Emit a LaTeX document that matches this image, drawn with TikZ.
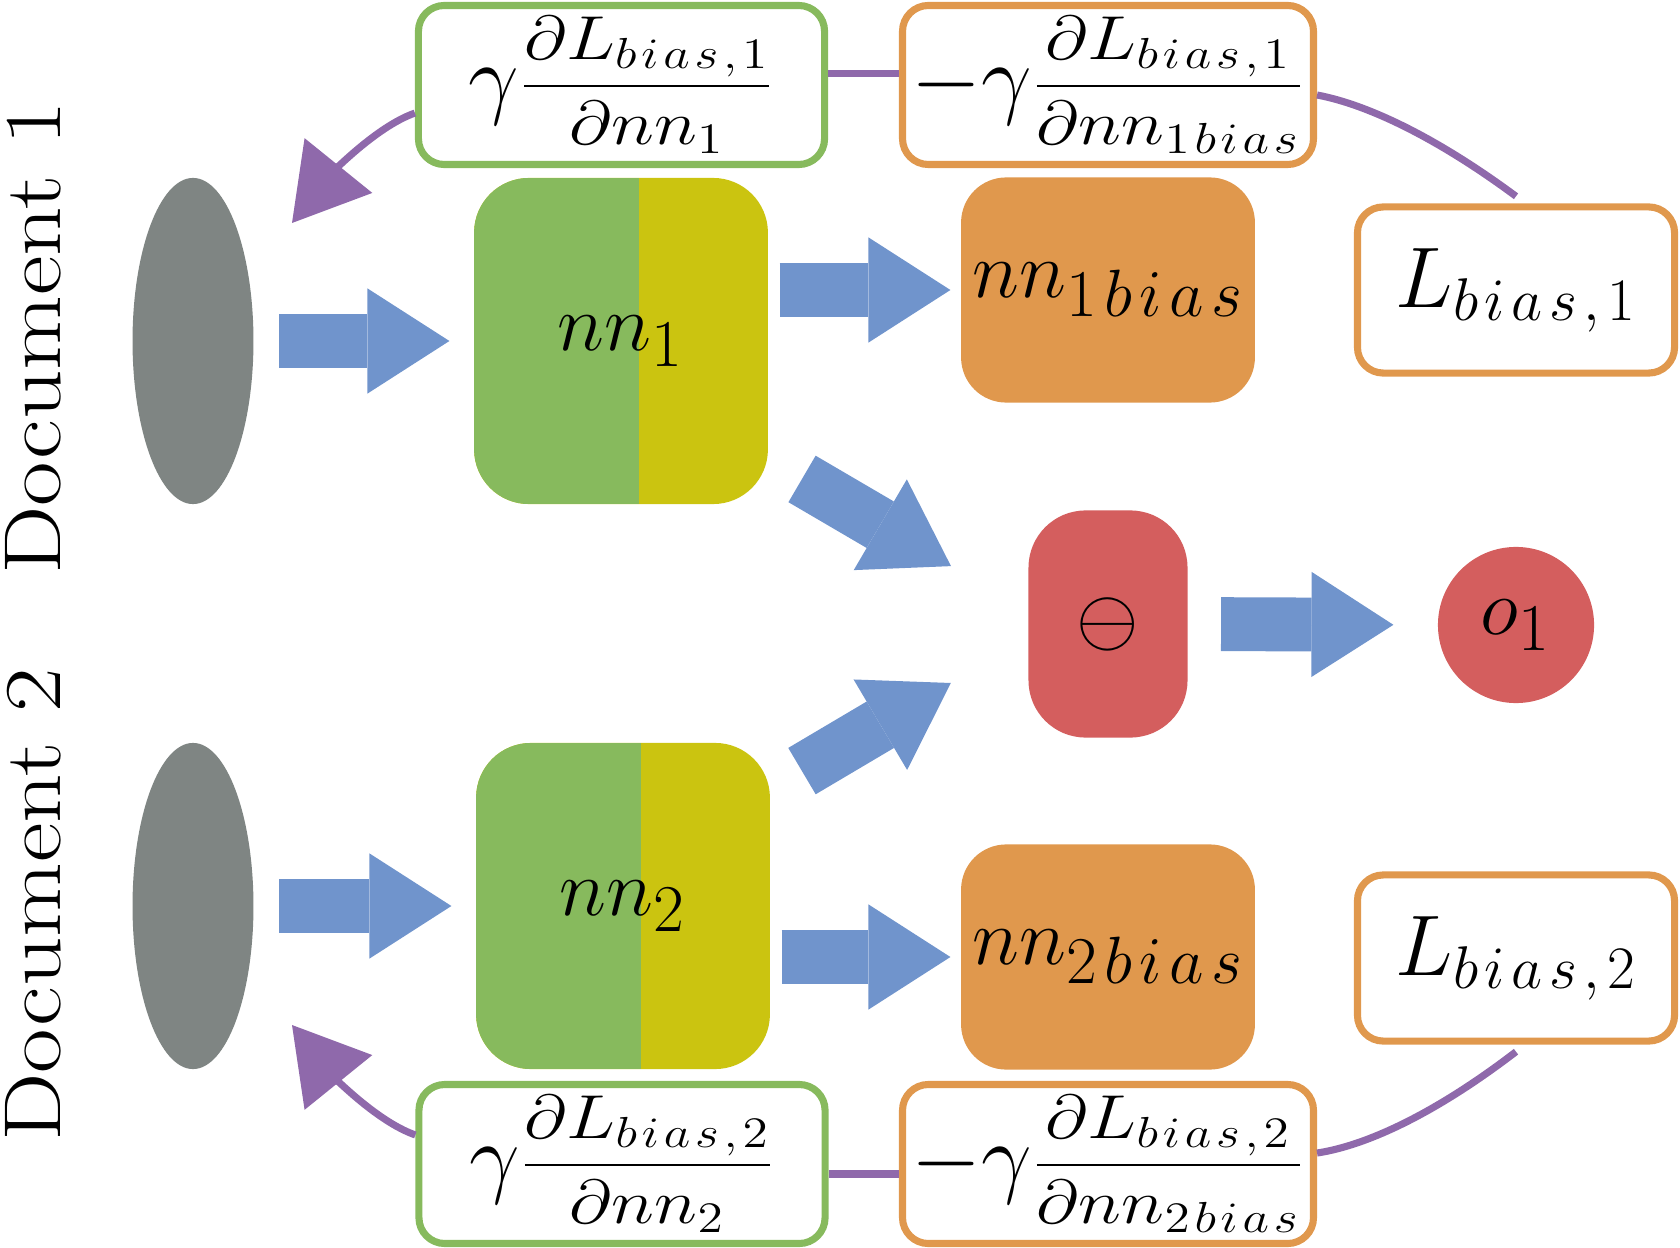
\RequirePackage{fix-cm}
\documentclass[tikz,border=0pt]{standalone}
\usepackage{amsmath}
\usepackage{graphicx}
\usetikzlibrary{shapes.geometric,arrows.meta,calc}
\definecolor{cgray}{HTML}{7F8583}
\definecolor{cgreen}{HTML}{87BA5D}
\definecolor{cyellow}{HTML}{CBC410}
\definecolor{corange}{HTML}{E0984D}
\definecolor{cblue}{HTML}{7094CC}
\definecolor{cred}{HTML}{D45E5E}
\definecolor{cpurple}{HTML}{8F69AB}
\newcommand\fracpart[2]{\raisebox{1.7pt}{\scalebox{1.3}[1.1]{\fontsize{17.5}{20}\selectfont$\displaystyle\frac{#1}{#2}$}}}
\newcommand\bigsym[1]{{\fontsize{27.9}{30}\selectfont$#1$}}
\newcommand\gs{\mkern1.7mu}
\newcommand\ns{\mkern2mu}
\newcommand\ls{\mkern2mu}
\begin{document}
\begin{tikzpicture}[x=0.31pt,y=-0.31pt,
  doclabel/.style={rotate=90,inner sep=0pt,font=\fontsize{25}{30}\selectfont},
  embed/.style={ellipse,fill=cgray,minimum width=37.5pt,minimum height=101.1pt,inner sep=0pt},
  nnbox/.style={rounded corners=17pt,fill=cyellow,minimum width=91.1pt,minimum height=101.1pt,inner sep=0pt,font=\Huge,
     path picture={\fill[cgreen,sharp corners] (path picture bounding box.north west) rectangle ([xshift=51.2pt]path picture bounding box.south west);}},
  biasbox/.style={rounded corners=14pt,fill=corange,minimum width=91.1pt,minimum height=69.8pt,inner sep=0pt,font=\Huge},
  minusbox/.style={rounded corners=17.7pt,fill=cred,minimum width=49.3pt,minimum height=70.4pt,inner sep=0pt,font=\Huge},
  outbox/.style={circle,fill=cred,minimum size=48.4pt,inner sep=0pt,font=\Huge},
  gradbox/.style={draw=cgreen,line width=2.2pt,rounded corners=8pt,fill=white,minimum width=125.9pt,minimum height=49.3pt,inner sep=0pt},
  negbox/.style={draw=corange,line width=2.2pt,rounded corners=8pt,fill=white,minimum width=127.4pt,minimum height=49.3pt,inner sep=0pt},
  lossbox/.style={draw=corange,line width=2.2pt,rounded corners=8pt,fill=white,minimum width=98.3pt,minimum height=51.5pt,inner sep=0pt,font=\fontsize{26.7}{30}\selectfont},
  bigarrow/.style={draw=cblue,line width=16.7pt,-{Triangle[length=25.4pt,width=32.6pt,line width=0pt]}},
  purpline/.style={draw=cpurple,line width=2.2pt},
  purparrow/.style={purpline,-{Triangle[length=22.9pt,width=27pt,line width=0pt]}}
]
\useasboundingbox (0,0) rectangle (1680,1248);

% labels
\node[doclabel] (d1) at (33,338) {\scalebox{1.2}[1]{Document 1}};
\node[doclabel] (d2) at (33,905) {\scalebox{1.2}[1]{Document 2}};

% nodes
\node[embed] (e1) at (193,341) {};
\node[embed] (e2) at (193,906) {};
\node[nnbox] (nn1) at (621,341) {$nn_1$};
\node[nnbox] (nn2) at (623,906) {$nn_2$};
\node[biasbox] (b1) at (1108,290) {$nn_{1\ns b\ns i\ns a\ns s}$};
\node[biasbox] (b2) at (1108,957) {$nn_{2\ns b\ns i\ns a\ns s}$};
\node[minusbox] (m) at (1108,624) {$\ominus$};
\node[outbox] (o) at (1516,625) {$o_1$};
\node[lossbox] (L1) at (1516,290) {$L_{b\ls i\ls a\ls s\ls ,\ls 1}$};
\node[lossbox] (L2) at (1516,958) {$L_{b\ls i\ls a\ls s\ls ,\ls 2}$};
\node[gradbox] (g1) at (621.5,85) {\bigsym{\gamma}\fracpart{\partial L_{b\gs i\gs a\gs s\gs ,\gs 1}}{\partial nn_1}};
\node[negbox] (n1) at (1108,85) {\bigsym{-\gamma}\fracpart{\partial L_{b\gs i\gs a\gs s\gs ,\gs 1}}{\partial nn_{1\gs b\gs i\gs a\gs s}}};
\node[gradbox] (g2) at (622,1164) {\bigsym{\gamma}\fracpart{\partial L_{b\gs i\gs a\gs s\gs ,\gs 2}}{\partial nn_2}};
\node[negbox] (n2) at (1108,1164) {\bigsym{-\gamma}\fracpart{\partial L_{b\gs i\gs a\gs s\gs ,\gs 2}}{\partial nn_{2\gs b\gs i\gs a\gs s}}};

% blue arrows
\draw[bigarrow,shorten <=7.75pt,shorten >=7.44pt] (e1.east) -- (nn1.west);
\draw[bigarrow,shorten <=7.75pt,shorten >=7.44pt] (e2.east) -- (nn2.west);
\draw[bigarrow,shorten <=3.4pt,shorten >=3.1pt] (b1.west -| nn1.east) -- (b1.west);
\draw[bigarrow,shorten <=3.4pt,shorten >=3.1pt] (b2.west -| nn2.east) -- (b2.west);
\coordinate (da1) at ($(nn1.center)+(0,32)$);
\coordinate (db1) at ($(m.center)+(0,34)$);
\coordinate (da2) at ($(nn2.center)+(0,-29)$);
\coordinate (db2) at ($(m.center)+(0,-34)$);
\draw[bigarrow] ($(da1)!0.3717!(db1)$) -- ($(da1)!0.6776!(db1)$);
\draw[bigarrow] ($(da2)!0.369!(db2)$) -- ($(da2)!0.676!(db2)$);
\draw[bigarrow,shorten <=10.2pt,shorten >=13.6pt] (m.east) -- (o.west);

% purple feedback paths
\coordinate (t1) at (292,223);
\coordinate (t2) at (292,1025);
\draw[purpline] ([yshift=2.2pt]L1.north) .. controls (1440,140) and (1370,105) .. ([yshift=-3.1pt]n1.east);
\draw[purpline] ([yshift=3.7pt]n1.west) -- ([yshift=3.7pt]g1.east);
\draw[purparrow] ([yshift=-8.7pt]g1.west) .. controls (375,127) and (330,176) .. (t1);
\draw[purpline] ([yshift=-2.2pt]L2.south) .. controls (1440,1110) and (1370,1145) .. ([yshift=3.4pt]n2.east);
\draw[purpline] ([yshift=-3.1pt]n2.west) -- ([yshift=-3.1pt]g2.east);
\draw[purparrow] ([yshift=9pt]g2.west) .. controls (375,1121) and (330,1072) .. (t2);
\end{tikzpicture}
\end{document}
